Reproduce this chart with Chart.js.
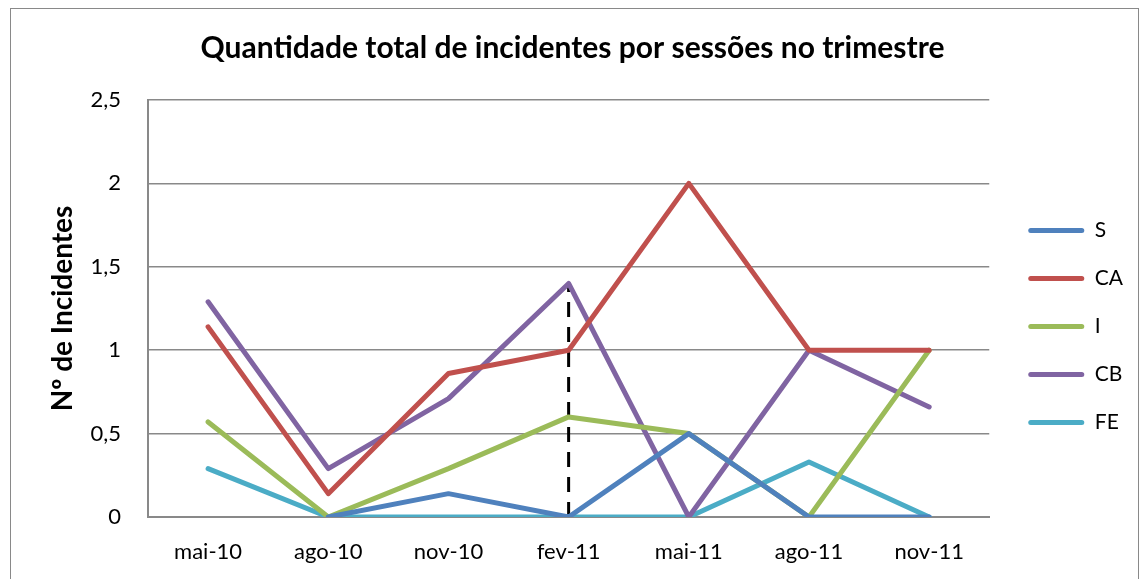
<!DOCTYPE html>
<html>
<head>
<meta charset="utf-8">
<script src="https://cdn.jsdelivr.net/npm/chart.js@4"></script>
<style>
  body { margin: 0; background: #fff; }
  #wrap { position: relative; width: 1144px; height: 579px; overflow: hidden; }
  #frame { position: absolute; left: 10px; top: 8px; width: 1127px; height: 640px; border: 1px solid #898989; }
  canvas { position: absolute; left: 0; top: 0; }
</style>
</head>
<body>
<div id="wrap">
  <div id="frame"></div>
  <canvas id="myChart" width="1144" height="579"></canvas>
</div>
<script>
const months = ['mai-10', 'ago-10', 'nov-10', 'fev-11', 'mai-11', 'ago-11', 'nov-11'];
const S  = [null, 0, 0.14, 0, 0.5, 0, 0];
const CA = [1.14, 0.14, 0.86, 1, 2, 1, 1];
const I  = [0.57, 0, 0.29, 0.6, 0.5, 0, 1];
const CB = [1.29, 0.29, 0.71, 1.4, 0, 1, 0.66];
const FE = [0.29, 0, 0, 0, 0, 0.33, 0];
// dashed marker at fev-11
const marker = [{ x: 'fev-11', y: 0 }, { x: 'fev-11', y: 1.4 }];

const colors = {
  S: '#4F81BD',
  CA: '#C0504D',
  I: '#9BBB59',
  CB: '#8064A2',
  FE: '#4BACC6',
};

const fontFam = 'Lato, "Open Sans", sans-serif';

function series(label, values) {
  return {
    label: label,
    data: values,
    borderColor: colors[label],
    backgroundColor: colors[label],
    borderWidth: 5,
    pointRadius: 0,
    tension: 0,
    borderJoinStyle: 'round',
    borderCapStyle: 'round',
  };
}

// push legend right/down and title right, like the excel one
const nudge = {
  id: 'nudge',
  afterLayout(chart) {
    const lg = chart.legend;
    lg.left += 12;
    lg.right += 12;
    lg.top += 37;
    lg.bottom += 37;
    const t = chart.titleBlock;
    t.left += 12;
    t.right += 12;
  },
};

const ctx = document.getElementById('myChart').getContext('2d');
new Chart(ctx, {
  type: 'line',
  data: {
    labels: months,
    datasets: [
      series('S', S),
      series('CA', CA),
      series('I', I),
      series('CB', CB),
      series('FE', FE),
      {
        label: 'marker',
        data: marker,
        borderColor: '#000',
        borderWidth: 3,
        borderDash: [15, 10],
        pointRadius: 0,
      },
    ],
  },
  options: {
    responsive: false,
    animation: false,
    layout: { padding: { left: 0, right: 23, top: 0, bottom: 0 } },
    plugins: {
      title: {
        display: true,
        text: 'Quantidade total de incidentes por sessões no trimestre',
        color: '#000',
        font: { family: fontFam, size: 30, weight: 'bold' },
        padding: { top: 30, bottom: 34 },
      },
      legend: {
        position: 'right',
        labels: {
          filter: (item) => item.text !== 'marker',
          generateLabels: (chart) =>
            Chart.defaults.plugins.legend.labels.generateLabels(chart)
              .map((l) => ({ ...l, lineWidth: 0 })),
          color: '#000',
          font: { family: fontFam, size: 21 },
          boxWidth: 56,
          boxHeight: 5,
          useBorderRadius: true,
          borderRadius: 2.5,
          padding: 27,
        },
      },
      tooltip: { enabled: false },
    },
    scales: {
      x: {
        offset: true,
        afterFit: (scale) => { scale.height = 62; },
        grid: { display: false, drawTicks: false },
        border: { display: true, color: '#898989', width: 2 },
        ticks: { color: '#000', padding: 22, font: { family: fontFam, size: 22 } },
      },
      y: {
        min: 0,
        max: 2.5,
        afterFit: (scale) => { scale.width = 148; },
        grid: { color: '#898989', lineWidth: 1.5, drawTicks: false },
        border: { display: true, color: '#898989', width: 2 },
        ticks: {
          stepSize: 0.5,
          color: '#000',
          padding: 27,
          font: { family: fontFam, size: 22 },
          callback: (v) => String(v).replace('.', ','),
        },
        title: {
          display: true,
          text: 'Nº de Incidentes',
          color: '#000',
          font: { family: fontFam, size: 28, weight: 'bold' },
          padding: { top: 46, bottom: 0 },
        },
      },
    },
  },
  plugins: [nudge],
});
</script>
</body>
</html>
